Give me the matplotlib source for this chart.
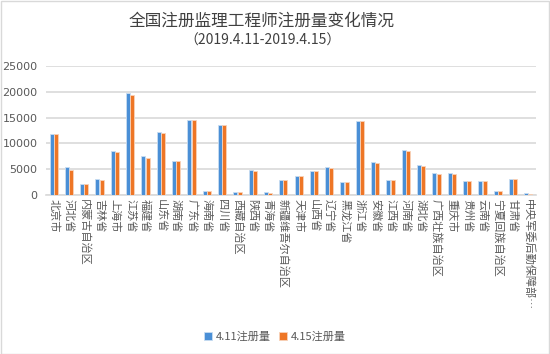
import matplotlib
matplotlib.use("Agg")
import matplotlib.pyplot as plt
import numpy as np
from matplotlib.patches import Rectangle

plt.rcParams['font.family'] = ['Noto Sans CJK SC', 'DejaVu Sans']

categories = ["北京市", "河北省", "内蒙古自治区", "吉林省", "上海市", "江苏省", "福建省", "山东省",
              "湖南省", "广东省", "海南省", "四川省", "西藏自治区", "陕西省", "青海省", "新疆维吾尔自治区",
              "天津市", "山西省", "辽宁省", "黑龙江省", "浙江省", "安徽省", "江西省", "河南省",
              "湖北省", "广西壮族自治区", "重庆市", "贵州省", "云南省", "宁夏回族自治区", "甘肃省",
              "中央军委后勤保障部…"]
reg_411 = [11900, 5400, 2150, 3050, 8500, 19850, 7550, 12150, 6650, 14550, 700, 13650, 550,
           4850, 580, 2950, 3650, 4600, 5450, 2600, 14400, 6400, 2950, 8750, 5850, 4350, 4250,
           2750, 2750, 750, 3100, 300]
reg_415 = [11900, 4900, 2150, 2850, 8350, 19300, 7250, 11950, 6500, 14550, 700, 13600, 500,
           4700, 320, 2950, 3650, 4600, 5250, 2450, 14400, 6250, 2950, 8550, 5650, 4050, 4100,
           2750, 2750, 750, 3100, 250]
yticks = [0, 5000, 10000, 15000, 20000, 25000]
series_names = ["4.11注册量", "4.15注册量"]

W, H = 550, 354
fig = plt.figure(figsize=(W / 100, H / 100), dpi=100)
ax = fig.add_axes([46 / W, 1 - 195 / H, (536 - 46) / W, (195 - 66) / H])

x = np.arange(len(categories))
bw = 0.26
blue = "#4A8FD6"
orange = "#EE7626"
ax.bar(x - 0.14, reg_411, width=bw, color=blue, edgecolor="#C9DDF2", linewidth=0.6, zorder=3,
       label=series_names[0])
ax.bar(x + 0.14, reg_415, width=bw, color=orange, edgecolor="#F8D3BA", linewidth=0.6, zorder=3,
       label=series_names[1])

ax.set_xlim(-0.5, len(categories) - 0.5)
ax.set_ylim(0, 25000)
ax.set_yticks(yticks)
ax.set_yticklabels([str(v) for v in yticks], fontsize=8, color="#595959", family="DejaVu Sans")
ax.yaxis.grid(True, color="#D9D9D9", linewidth=1.2, zorder=0)
ax.tick_params(axis="y", length=0, pad=6)
ax.set_xticks(x)
ax.set_xticklabels(categories, rotation=270, fontsize=8, color="#595959")
ax.tick_params(axis="x", length=0, pad=3)
for s in ["top", "right", "left"]:
    ax.spines[s].set_visible(False)
ax.spines["bottom"].set_color("#D9D9D9")
ax.spines["bottom"].set_linewidth(1.2)

fig.text(262 / W, 1 - 21 / H, "全国注册监理工程师注册量变化情况", ha="center", va="center",
         fontsize=12, color="#404040")
fig.text(263 / W, 1 - 41 / H, "（2019.4.11-2019.4.15）", ha="center", va="center",
         fontsize=10, color="#404040")

leg = fig.legend(loc="center", bbox_to_anchor=(275 / W, 1 - 337 / H), ncol=2, frameon=False,
                 fontsize=8, handlelength=0.7, handleheight=0.7, handletextpad=0.3,
                 columnspacing=0.8, labelcolor="#595959")

fig.patches.append(Rectangle((0.5 / W, 0.5 / H), 1 - 1.5 / W, 1 - 1.5 / H, transform=fig.transFigure,
                             fill=False, edgecolor="#D9D9D9", linewidth=1))

fig.savefig("out.png", dpi=100)
